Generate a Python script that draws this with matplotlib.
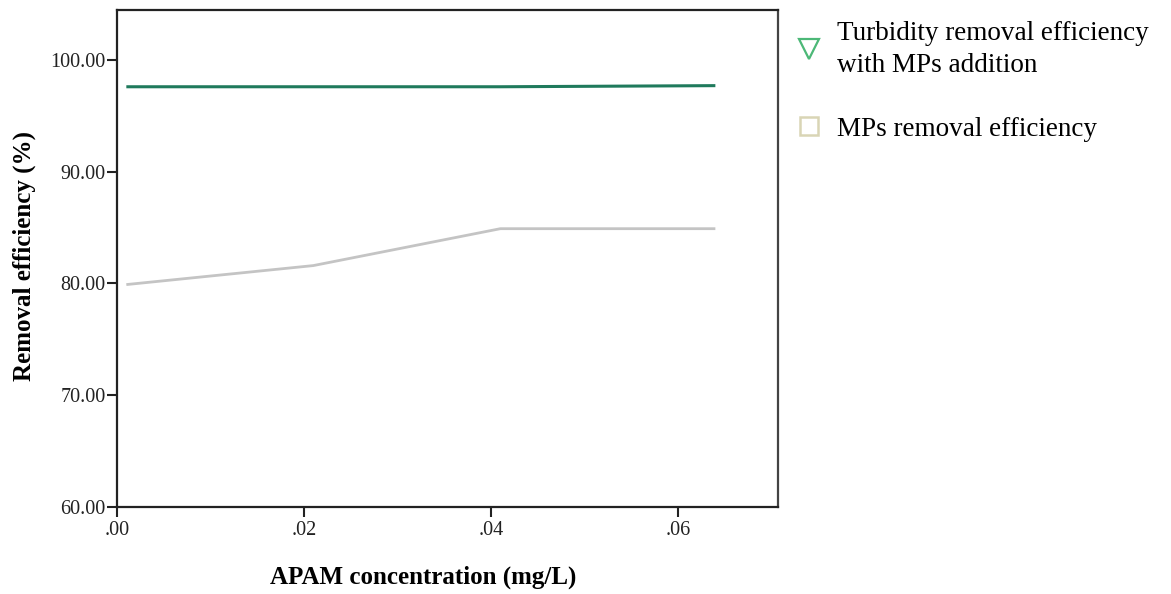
import matplotlib
matplotlib.use("Agg")
import matplotlib.pyplot as plt
from matplotlib.lines import Line2D

# Data
apam_conc = [0.001, 0.021, 0.041, 0.064]
turbidity_eff = [97.6, 97.6, 97.6, 97.7]
mps_eff = [79.9, 81.6, 84.9, 84.9]
y_ticks = [60, 70, 80, 90, 100]
y_tick_labels = ["60.00", "70.00", "80.00", "90.00", "100.00"]
x_ticks = [0.00, 0.02, 0.04, 0.06]
x_tick_labels = [".00", ".02", ".04", ".06"]
legend_labels = ["Turbidity removal efficiency\nwith MPs addition", "MPs removal efficiency"]

plt.rcParams['font.family'] = ['Liberation Serif', 'DejaVu Serif']

fig = plt.figure(figsize=(11.71, 5.94), dpi=100)
ax = fig.add_axes([0.0999, 0.1465, 0.5645, 0.8367])

ax.plot(apam_conc, mps_eff, color='#c4c4c4', lw=2.0, solid_capstyle='butt', zorder=2)
ax.plot(apam_conc, turbidity_eff, color='#1f7a5c', lw=2.2, solid_capstyle='butt', zorder=3)

ax.set_xlim(0.0, 0.0707)
ax.set_ylim(60, 104.47)
ax.set_xticks(x_ticks)
ax.set_xticklabels(x_tick_labels)
ax.set_yticks(y_ticks)
ax.set_yticklabels(y_tick_labels)
ax.tick_params(axis='both', direction='out', length=7, width=1.5, labelsize=14.5, colors='#222222')
ax.tick_params(axis='x', pad=3)
ax.tick_params(axis='y', pad=1)
for s in ax.spines.values():
    s.set_linewidth(1.6)
    s.set_color('#222222')
ax.spines['right'].set_color('#444444')

ax.set_xlabel("APAM concentration (mg/L)", fontsize=18, fontweight='bold')
ax.set_ylabel("Removal efficiency (%)", fontsize=18, fontweight='bold')
ax.xaxis.set_label_coords(0.463, -0.118)
ax.yaxis.set_label_coords(-0.123, 0.505)

handles = [
    Line2D([], [], ls='none', marker='v', markersize=15, markerfacecolor='none',
           markeredgecolor='#4cb877', markeredgewidth=1.6),
    Line2D([], [], ls='none', marker='s', markersize=13.5, markerfacecolor='none',
           markeredgecolor='#d9d5b5', markeredgewidth=1.8),
]
leg = fig.legend(handles, legend_labels, loc='upper left', bbox_to_anchor=(0.670, 0.983),
                 frameon=False, fontsize=19.5, handlelength=1.0, handletextpad=0.55,
                 labelspacing=1.45, borderaxespad=0)
for t in leg.get_texts():
    t.set_linespacing(1.35)

fig.savefig("out.png", dpi=100)
